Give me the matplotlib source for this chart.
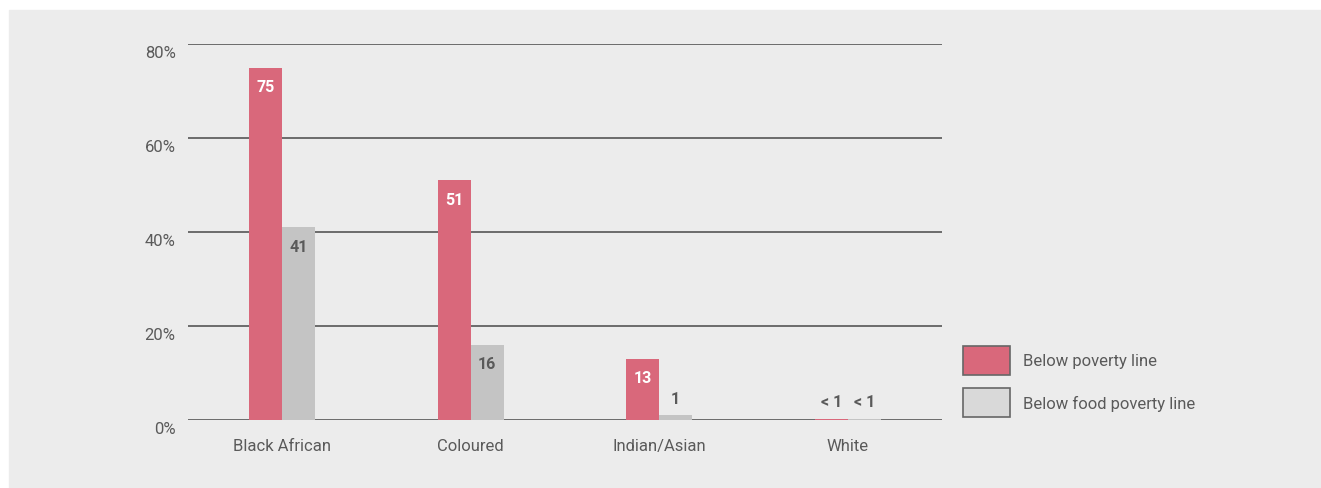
import matplotlib
matplotlib.use("Agg")
import matplotlib.pyplot as plt
import matplotlib.transforms as mtransforms
import numpy as np
from matplotlib.patches import Rectangle

groups = ["Black African", "Coloured", "Indian/Asian", "White"]
poverty = [75, 51, 13, 0.3]
food_poverty = [41, 16, 1, 0.3]
poverty_labels = ["75", "51", "13", "< 1"]
food_labels = ["41", "16", "1", "< 1"]
yticks = [0, 20, 40, 60, 80]
series_names = ["Below poverty line", "Below food poverty line"]

RED = "#d9687b"
GREY = "#c4c4c4"
TXT = "#5a5a5a"
plt.rcParams["font.family"] = ["Roboto", "DejaVu Sans"]

fig = plt.figure(figsize=(13.21, 4.89), dpi=100, facecolor="white")
fig.patches.append(Rectangle((9 / 1321, 0), 1 - 9 / 1321, 1 - 11 / 489,
                             transform=fig.transFigure, color="#ececec", zorder=-5))

W, H = 1321, 489
ax = fig.add_axes([188 / W, 1 - 421 / H, (942 - 188) / W, (421 - 45) / H])
ax.set_zorder(2)
ax.patch.set_visible(False)

x = np.arange(len(groups)) + 0.5
w = 0.175
ax.bar(x - w / 2, poverty, w, color=RED, zorder=3)
ax.bar(x + w / 2, food_poverty, w, color=GREY, zorder=3)

for xi, v, lab in zip(x - w / 2, poverty, poverty_labels):
    if v > 5:
        ax.text(xi, v - 2.4, lab, ha="center", va="top", color="white",
                fontsize=11.5, fontweight="bold", zorder=4)
    else:
        ax.text(xi, v + 2, lab, ha="center", va="bottom", color=TXT,
                fontsize=11.5, fontweight="bold", zorder=4)
for xi, v, lab in zip(x + w / 2, food_poverty, food_labels):
    if v > 5:
        ax.text(xi, v - 2.4, lab, ha="center", va="top", color=TXT,
                fontsize=11.5, fontweight="bold", zorder=4)
    else:
        ax.text(xi, v + 2, lab, ha="center", va="bottom", color=TXT,
                fontsize=11.5, fontweight="bold", zorder=4)

ax.set_xlim(0, 4)
ax.set_ylim(0, 80)
ax.set_yticks(yticks)
ax.set_yticklabels([f"{t}%" for t in yticks])
ax.yaxis.grid(True, color="#555555", lw=1.2, zorder=1)
ax.set_axisbelow(True)
ax.set_xticks(x)
ax.set_xticklabels(groups)
ax.tick_params(length=0, labelsize=12, colors=TXT, pad=13)
ax.tick_params(axis="y", pad=9, labelsize=12)
for s in ax.spines.values():
    s.set_visible(False)
shift = mtransforms.ScaledTranslation(0, -7 / 100, fig.dpi_scale_trans)
for lab in ax.get_yticklabels():
    lab.set_transform(lab.get_transform() + shift)

# legend
lx = 963 / W
for i, (name, col) in enumerate(zip(series_names, [RED, "#d9d9d9"])):
    y0 = 1 - (376 + i * 42) / H
    fig.patches.append(Rectangle((lx, y0), 47 / W, 29 / H, transform=fig.transFigure,
                                 facecolor=col, edgecolor="#666666", lw=1.2, zorder=2))
    fig.text(1023 / W, y0 + 14.5 / H, name, ha="left", va="center",
             fontsize=12, color=TXT)

fig.savefig("out.png", dpi=100, facecolor="white")
